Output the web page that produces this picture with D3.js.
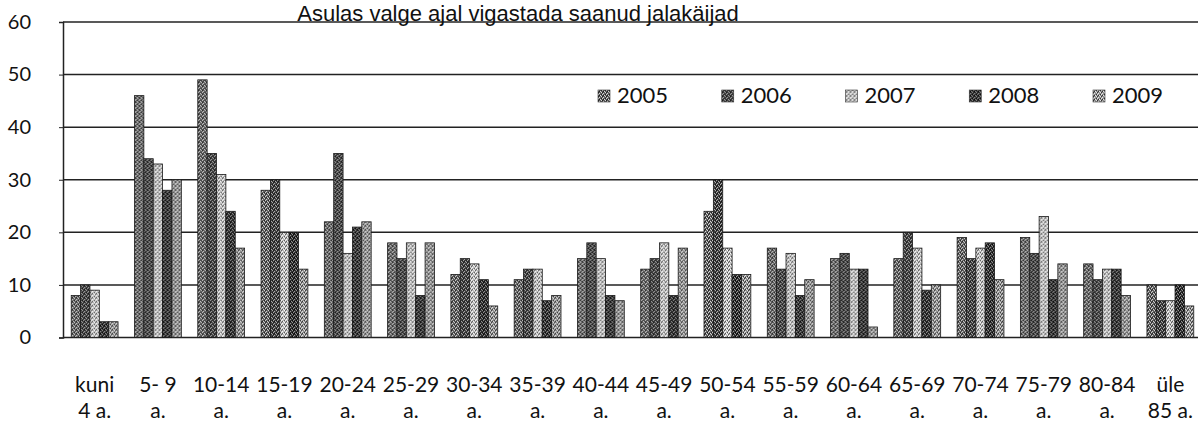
<!DOCTYPE html>
<html>
<head>
<meta charset="utf-8">
<script src="https://cdn.jsdelivr.net/npm/d3@7"></script>
<style>
  html, body { margin: 0; padding: 0; background: #fff; }
  svg { display: block; font-family: Lato, "Open Sans", sans-serif; }
</style>
</head>
<body>
<svg id="chart" width="1198" height="425"></svg>
<script>
// Age groups (two-line labels)
const categories = ["kuni|4 a.", "5- 9|a.", "10-14|a.", "15-19|a.", "20-24|a.", "25-29|a.",
  "30-34|a.", "35-39|a.", "40-44|a.", "45-49|a.", "50-54|a.", "55-59|a.",
  "60-64|a.", "65-69|a.", "70-74|a.", "75-79|a.", "80-84|a.", "üle|85 a."];
const years = ["2005", "2006", "2007", "2008", "2009"];

const v2005 = [8, 46, 49, 28, 22, 18, 12, 11, 15, 13, 24, 17, 15, 15, 19, 19, 14, 10];
const v2006 = [10, 34, 35, 30, 35, 15, 15, 13, 18, 15, 30, 13, 16, 20, 15, 16, 11, 7];
const v2007 = [9, 33, 31, 20, 16, 18, 14, 13, 15, 18, 17, 16, 13, 17, 17, 23, 13, 7];
const v2008 = [3, 28, 24, 20, 21, 8, 11, 7, 8, 8, 12, 8, 13, 9, 18, 11, 13, 10];
const v2009 = [3, 30, 17, 13, 22, 18, 6, 8, 7, 17, 12, 11, 2, 10, 11, 14, 8, 6];
const seriesValues = [v2005, v2006, v2007, v2008, v2009];

const yTicks = [0, 10, 20, 30, 40, 50, 60];
const title = "Asulas valge ajal vigastada saanud jalakäijad";

const svg = d3.select("#chart");
const margin = { left: 63, right: 1202, top: 22, bottom: 337.5 };

// Dithered grey fills, one per year
const fills = [
  { base: "#5e5e5e", dots: "#d8d8d8", dark: "#1e1e1e" },
  { base: "#3e3e3e", dots: "#b0b0b0", dark: "#111" },
  { base: "#b8b8b8", dots: "#ffffff", dark: "#555" },
  { base: "#2f2f2f", dots: "#9a9a9a", dark: "#000" },
  { base: "#8e8e8e", dots: "#e6e6e6", dark: "#333" }
];
const defs = svg.append("defs");
fills.forEach((f, i) => {
  const p = defs.append("pattern")
    .attr("id", "pat" + i)
    .attr("patternUnits", "userSpaceOnUse")
    .attr("width", 4).attr("height", 4);
  p.append("rect").attr("width", 4).attr("height", 4).attr("fill", f.base);
  [[0, 0], [2, 1], [1, 3], [3, 2]].forEach(([x, y]) =>
    p.append("rect").attr("x", x).attr("y", y).attr("width", 1).attr("height", 1).attr("fill", f.dots));
  [[1, 1], [3, 0], [0, 2]].forEach(([x, y]) =>
    p.append("rect").attr("x", x).attr("y", y).attr("width", 1).attr("height", 1).attr("fill", f.dark));
});

const x0 = d3.scaleBand()
  .domain(categories)
  .range([margin.left, margin.right])
  .paddingInner(0.26)
  .paddingOuter(0.13);
const x1 = d3.scaleBand()
  .domain(years)
  .range([0, x0.bandwidth()]);
const y = d3.scaleLinear()
  .domain([0, 60])
  .range([margin.bottom, margin.top]);

// Horizontal gridlines
svg.append("g")
  .selectAll("line")
  .data(yTicks)
  .join("line")
  .attr("x1", margin.left).attr("x2", 1198)
  .attr("y1", d => y(d)).attr("y2", d => y(d))
  .attr("stroke", "#222")
  .attr("stroke-width", 1.5);

// Left axis with tick labels
const yAxis = svg.append("g")
  .attr("transform", `translate(${margin.left},0)`)
  .call(d3.axisLeft(y).tickValues(yTicks).tickSize(4).tickPadding(28));
yAxis.select(".domain").attr("stroke", "#222").attr("stroke-width", 1.5);
yAxis.selectAll(".tick line").attr("stroke", "#222");
yAxis.selectAll(".tick text")
  .attr("font-family", "Lato, sans-serif")
  .attr("font-size", 20)
  .attr("fill", "#111");

// Bars
const groups = svg.append("g")
  .selectAll("g")
  .data(categories)
  .join("g")
  .attr("transform", d => `translate(${x0(d)},0)`);

groups.selectAll("rect")
  .data((c, ci) => years.map((yr, si) => ({ yr, si, v: seriesValues[si][ci] })))
  .join("rect")
  .attr("x", d => x1(d.yr))
  .attr("y", d => y(d.v))
  .attr("width", x1.bandwidth())
  .attr("height", d => y(0) - y(d.v))
  .attr("fill", d => `url(#pat${d.si})`)
  .attr("stroke", "#1a1a1a")
  .attr("stroke-width", 0.8);

// Category labels (two lines)
const xl = svg.append("g")
  .selectAll("text")
  .data(categories)
  .join("text")
  .attr("x", d => x0(d) + x0.bandwidth() / 2)
  .attr("text-anchor", "middle")
  .attr("font-size", 21)
  .attr("fill", "#111");
xl.append("tspan").attr("x", d => x0(d) + x0.bandwidth() / 2).attr("y", 392).text(d => d.split("|")[0]);
xl.append("tspan").attr("x", d => x0(d) + x0.bandwidth() / 2).attr("y", 418).text(d => d.split("|")[1]);

// Legend
const legendX = d3.scalePoint().domain(years).range([598, 1093]);
const lg = svg.append("g")
  .selectAll("g")
  .data(years)
  .join("g")
  .attr("transform", d => `translate(${legendX(d)},90)`);
lg.append("rect")
  .attr("width", 12).attr("height", 12)
  .attr("fill", (d, i) => `url(#pat${i})`)
  .attr("stroke", "#333").attr("stroke-width", 0.6);
lg.append("text")
  .attr("x", 19).attr("y", 13)
  .attr("font-size", 22)
  .attr("fill", "#111")
  .text(d => d);

// Title
svg.append("text")
  .attr("x", 518).attr("y", 21)
  .attr("text-anchor", "middle")
  .attr("font-family", "'Liberation Sans', Arial, sans-serif")
  .attr("font-size", 22)
  .attr("fill", "#111")
  .text(title);
</script>
</body>
</html>
